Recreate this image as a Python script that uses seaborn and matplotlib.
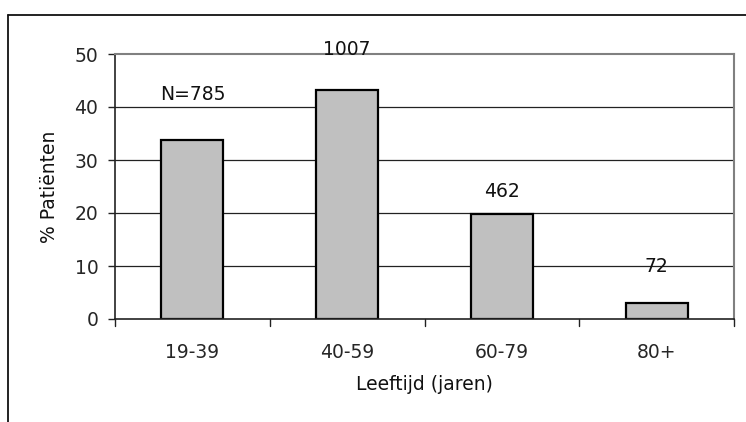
import matplotlib
matplotlib.use("Agg")
import matplotlib.pyplot as plt
from matplotlib.lines import Line2D
import numpy as np
import pandas as pd
import seaborn as sns

# Age groups and patient counts per group
age_groups = ["19-39", "40-59", "60-79", "80+"]
patient_counts = [785, 1007, 462, 72]
count_labels = ["N=785", "1007", "462", "72"]
# Vertical placement of the count labels (in % units)
label_heights = [42.3, 50.9, 24.0, 10.0]

total = sum(patient_counts)
percent = [c / total * 100 for c in patient_counts]
df = pd.DataFrame({"Leeftijd": age_groups, "Procent": percent})

sns.set_theme(style="white")
plt.rcParams["font.family"] = ["DejaVu Sans"]

FS = 13.5
W, H = 746, 422
fig = plt.figure(figsize=(W / 100, H / 100), dpi=100)
ax = fig.add_axes([115 / W, 1 - 319 / H, (734 - 115) / W, (319 - 54) / H])

sns.barplot(data=df, x="Leeftijd", y="Procent", ax=ax, color="#c0c0c0",
            edgecolor="black", linewidth=1.6, width=0.4, saturation=1)

ax.set_ylim(0, 50)
ax.set_xlim(-0.5, len(age_groups) - 0.5)
ax.set_yticks(np.arange(0, 51, 10))
ax.set_yticklabels([str(v) for v in range(0, 51, 10)], fontsize=FS)

# Gridlines behind the bars
for v in range(10, 50, 10):
    ax.axhline(v, color="#222222", linewidth=0.9, zorder=0)

# Category boundary ticks on the x axis
ax.set_xticks(range(len(age_groups)))
ax.set_xticklabels(age_groups, fontsize=FS)
ax.tick_params(axis="x", length=0, pad=17)
for b in np.arange(-0.5, len(age_groups), 1.0):
    ax.plot([b, b], [0, -1.4], color="#222222", linewidth=1.0,
            clip_on=False, zorder=3)

ax.tick_params(axis="y", left=True, length=5, width=1.0, color="#222222",
               direction="out", pad=7)

for side in ["left", "bottom"]:
    ax.spines[side].set_color("#222222")
    ax.spines[side].set_linewidth(1.2)
for side in ["right", "top"]:
    ax.spines[side].set_visible(True)
    ax.spines[side].set_color("#808080")
    ax.spines[side].set_linewidth(1.5)

ax.set_xlabel("Leeftijd (jaren)", fontsize=FS, labelpad=10, color="#111111")
ax.set_ylabel("% Patiënten", fontsize=FS, labelpad=11, color="#111111")

for i, (lab, h) in enumerate(zip(count_labels, label_heights)):
    ax.text(i, h, lab, ha="center", va="center", fontsize=FS,
            color="#111111", zorder=4)

# Outer chart frame
fig.add_artist(Line2D([8 / W, 1.0], [1 - 15 / H, 1 - 15 / H],
                      transform=fig.transFigure, color="#111111", linewidth=1.3))
fig.add_artist(Line2D([8 / W, 8 / W], [0.0, 1 - 15 / H],
                      transform=fig.transFigure, color="#111111", linewidth=1.3))

fig.savefig("out.png", dpi=100, facecolor="white")
